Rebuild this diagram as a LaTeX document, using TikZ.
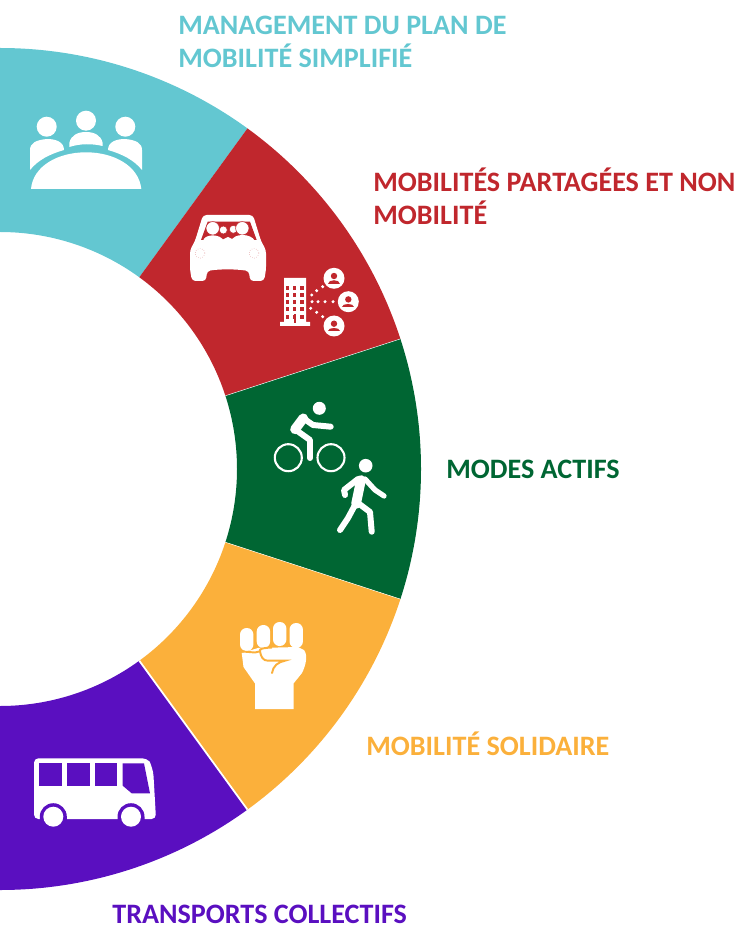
\documentclass[tikz,border=0pt]{standalone}
\usepackage{fontspec}
\setmainfont{Carlito}
\usepackage{xcolor}
\definecolor{teal1}{HTML}{63C7D1}
\definecolor{red1}{HTML}{C0272D}
\definecolor{green1}{HTML}{006633}
\definecolor{orange1}{HTML}{FBB03B}
\definecolor{purple1}{HTML}{5A0FC0}
\tikzset{
	heading/.style={anchor=base west,inner sep=0pt,align=left,font=\fontsize{16}{19.3}\selectfont\bfseries},
	limb/.style={draw=white,line width=3.4pt,line cap=round,line join=round},
}
\begin{document}
\begin{tikzpicture}[x=0.02cm,y=-0.02cm]
	\useasboundingbox (0,0) rectangle (738,925);

	\begin{scope}[shift={(0,469)}]
		\foreach \a/\b/\col in {-90/-54/teal1,-54/-18/red1,-18/18/green1,18/54/orange1,54/90/purple1}{
			\fill[\col] (\a:421) arc[start angle=\a,end angle=\b,radius=421] -- (\b:237) arc[start angle=\b,end angle=\a,radius=237] -- cycle;
		}
		\draw[white,line width=1pt] (54:237)--(54:421);
		\draw[white,line width=.25pt] (-18:237)--(-18:421);
		\draw[white,line width=.25pt] (18:237)--(18:421);
	\end{scope}

	\node[heading,text=teal1] (management) at (178,68) {MANAGEMENT DU PLAN DE\\MOBILITÉ SIMPLIFIÉ};
	\node[heading,text=red1] (partage) at (373,225) {MOBILITÉS PARTAGÉES ET NON\\MOBILITÉ};
	\node[heading,text=green1] (actifs) at (446,478) {MODES ACTIFS};
	\node[heading,text=orange1] (solidaire) at (366,755) {MOBILITÉ SOLIDAIRE};
	\node[heading,text=purple1,text depth=0pt] (collectifs) at (112,923) {TRANSPORTS COLLECTIFS};

	% reunion
	\foreach \x/\y in {46.7/126.7,86/120.7,125.3/126.7}{
		\fill[white] (\x,\y) circle (10);
	}
	\fill[white] (30,170) -- (30,150) .. controls (30,143) and (36,140) .. (47,139) .. controls (56,139) and (64,142) .. (64,150) .. controls (50,154) and (38,160) .. (30,170) -- cycle;
	\fill[white] (142,170) -- (142,150) .. controls (142,143) and (136,140) .. (125,139) .. controls (116,139) and (108,142) .. (108,150) .. controls (122,154) and (134,160) .. (142,170) -- cycle;
	\fill[white] (69.3,147) -- (69.3,143) .. controls (71,135) and (78,132) .. (86,132) .. controls (94,132) and (101,135) .. (102.7,143) -- (102.7,146) .. controls (92,143.5) and (80,143.5) .. (69.3,147) -- cycle;
	\fill[white] (31,189) .. controls (33,166) and (58,152.3) .. (86,152.3) .. controls (114,152.3) and (139,166) .. (141.3,189) -- cycle;

	% voiture
	\fill[white,rounded corners=2pt] (190,250) -- (195,241) -- (203,215) -- (253,215) -- (261,241) -- (266,250) -- (266,270) -- (264,281) -- (250,281) -- (249,271) .. controls (235,269) and (220,269) .. (207,271) -- (206,281) -- (192,281) -- (190,270) -- cycle;
	\fill[red1] (201,240) -- (207.7,221.7) -- (250,221.7) -- (256.7,240) -- cycle;
	\foreach \x/\y/\r in {223.3/230/4,233.3/229.3/4,212.7/228.3/6.7,242.3/228.3/6.7}{
		\fill[white,draw=red1,line width=.3pt] (\x,\y) circle (\r);
	}
	\fill[white] (203,241) .. controls (204,234) and (220,233) .. (224,241) -- cycle;
	\fill[white] (231,241) .. controls (234,233) and (251,233) .. (255,241) -- cycle;
	\fill[white] (220,241) -- (228,237) -- (236,241) -- cycle;
	\draw[red1!45,line width=.3pt,densely dotted] (200,253.3) circle (5);
	\draw[red1!45,line width=.3pt,densely dotted] (254,253.3) circle (5);

	% immeuble
	\fill[white] (284,278) -- (306,278) -- (306,322) -- (310,322) -- (310,326) -- (280,326) -- (280,322) -- (284,322) -- cycle;
	\foreach \x in {287.3,294.7,302}{
		\foreach \y in {288.3,295,301.7,309,316.7}{
			\fill[red1] (\x-1.7,\y-1.9) rectangle (\x+1.7,\y+1.9);
		}
	}
	\fill[red1] (293.5,314) rectangle (296,323);
	\foreach \x/\y in {311.7/295,316.7/290.7,322.7/286.7,312/301.7,318/301.7,325/301.7,333/301.7,310.7/308.3,316.7/312.3,322.7/316.7}{
		\fill[white] (\x,\y) circle (1.7);
	}
	\foreach \x/\y in {334/278.3,348.3/301.7,334/326}{
		\fill[white] (\x,\y) circle (10.5);
		\fill[red1] (\x,\y-2.3) circle (3.2);
		\fill[red1] (\x-6,\y+5.5) .. controls (\x-6,\y+1) and (\x+6,\y+1) .. (\x+6,\y+5.5) -- cycle;
	}

	% cycliste
	\fill[white] (319.3,408.3) circle (6.5);
	\draw[limb] (330.7,426.7) -- (313,425) -- (303,418);
	\draw[limb,line width=5.5pt] (303.3,418.3) -- (295,429.3);
	\draw[limb] (295,429.3) -- (310,440) -- (310,458);
	\draw[white,line width=1.2pt] (288.3,457.7) circle (13.5);
	\draw[white,line width=1.2pt] (331,457.7) circle (13.5);

	% pieton
	\fill[white] (365.7,465.7) circle (6.8);
	\draw[limb] (358,479) -- (344,490) -- (345,495);
	\draw[limb,line width=3pt] (365,479) -- (375,490) -- (384,496);
	\draw[limb,line width=5.5pt] (361,480) -- (356,504);
	\draw[limb] (355,505) -- (348,518) -- (340,530);
	\draw[limb] (358,503) -- (370,512) -- (371.7,531.7);

	% poing
	\fill[white] (241.7,653) -- (243.5,667) -- (255,683.5) -- (255,709) -- (293.5,709) -- (293.5,683.5) -- (302,673) .. controls (306,665) and (308,655) .. (304,650) -- (298,647) -- (258,648) -- cycle;
	\foreach \x/\y/\z in {240/628/651,256.7/625/648,273/622/646,289.5/623/648}{
		\fill[white,rounded corners=3.7pt] (\x,\y) rectangle (\x+13.4,\z);
	}
	\draw[orange1,line width=1.1pt] (240,651.3) -- (255,652.5) -- (260,651.3) .. controls (259,648.5) and (263,648) .. (272,647.5);
	\draw[orange1,line width=1.1pt,line cap=round] (260,651.3) .. controls (261,657) and (263,660.7) .. (268,660.7) -- (285,660.7) .. controls (278,662) and (273,666) .. (272,673);

	% bus
	\fill[white,rounded corners=2.5pt] (34,758.3) -- (146.7,758.3) .. controls (150,762) and (152,768) .. (153.3,772) -- (156,819) -- (34,819) -- cycle;
	\foreach \x in {39.3,67.3,95}{
		\fill[purple1] (\x,763.3) rectangle (\x+22.3,785.7);
	}
	\fill[purple1] (122.7,763.3) -- (144,763.3) -- (150,793.3) -- (131.7,793.3) -- (122.7,785.7) -- cycle;
	\foreach \x in {53.3,131}{
		\fill[purple1] (\x-13.5,820) -- (\x-13.5,816.7) arc[start angle=180,end angle=360,radius=13.5] -- (\x+13.5,820) -- cycle;
		\fill[white] (\x,816.7) circle (10);
	}
\end{tikzpicture}
\end{document}
